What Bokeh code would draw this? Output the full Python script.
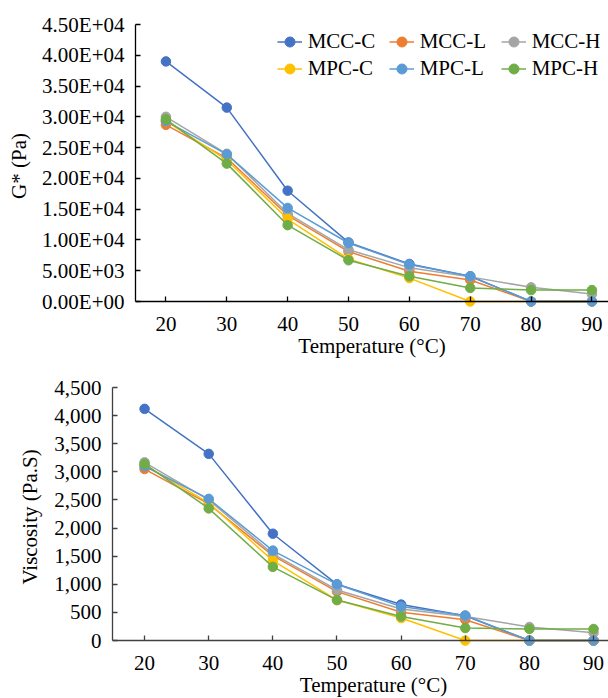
from bokeh.plotting import figure
from bokeh.models import Range1d, FixedTicker, Legend, LegendItem, LinearAxis, Title
from bokeh.embed import file_html
from bokeh.resources import INLINE

# ---------------- data ----------------
temps = [20, 30, 40, 50, 60, 70, 80, 90]
series_names = ["MCC-C", "MCC-L", "MCC-H", "MPC-C", "MPC-L", "MPC-H"]
series_colors = ["#4472C4", "#ED7D31", "#A5A5A5", "#FFC000", "#5B9BD5", "#70AD47"]

# complex modulus G* (Pa)
g_mcc_c = [39000, 31500, 18000, 9600, 6100, 4100, 0, 0]
g_mcc_l = [28700, 23300, 14000, 8100, 4900, 3500, 0, 0]
g_mcc_h = [30000, 24000, 14300, 8400, 5500, 4000, 2300, 1200]
g_mpc_c = [29300, 23000, 13400, 6900, 3800, 0, 0, 0]
g_mpc_l = [29300, 23900, 15200, 9500, 6000, 4100, 0, 0]
g_mpc_h = [29600, 22400, 12400, 6700, 4100, 2200, 1850, 1850]

# viscosity (Pa.S)
v_mcc_c = [4120, 3320, 1900, 1000, 640, 440, 0, 0]
v_mcc_l = [3050, 2430, 1510, 870, 505, 370, 0, 0]
v_mcc_h = [3170, 2500, 1540, 900, 563, 430, 241, 140]
v_mpc_c = [3120, 2450, 1420, 720, 400, 0, 0, 0]
v_mpc_l = [3100, 2520, 1600, 1000, 604, 446, 0, 0]
v_mpc_h = [3140, 2350, 1310, 720, 428, 223, 206, 206]

g_ticks = [0, 5000, 10000, 15000, 20000, 25000, 30000, 35000, 40000, 45000]
g_tick_labels = ["0.00E+00", "5.00E+03", "1.00E+04", "1.50E+04", "2.00E+04",
                 "2.50E+04", "3.00E+04", "3.50E+04", "4.00E+04", "4.50E+04"]
v_ticks = [0, 500, 1000, 1500, 2000, 2500, 3000, 3500, 4000, 4500]
v_tick_labels = ["0", "500", "1,000", "1,500", "2,000", "2,500", "3,000", "3,500", "4,000", "4,500"]

x_label = "Temperature (°C)"
g_label = "G* (Pa)"
v_label = "Viscosity (Pa.S)"

FONT = "Liberation Serif"
FS = "21px"
X_MIN = 15
PAD = 6  # px of frame below the x axis so markers at 0 are not clipped


def style_axis(ax, color):
    ax.axis_line_color = color
    ax.axis_line_width = 1.3
    ax.major_tick_line_color = color
    ax.major_tick_line_width = 1.3
    ax.minor_tick_line_color = color
    ax.minor_tick_line_width = 1.3
    ax.minor_tick_in = 0
    ax.minor_tick_out = 0
    ax.major_label_text_font = FONT
    ax.major_label_text_font_size = FS
    ax.major_label_text_color = "black"
    ax.axis_label_text_font = FONT
    ax.axis_label_text_font_size = FS
    ax.axis_label_text_font_style = "normal"
    ax.axis_label_text_color = "black"


def make_fig(width, height, left, top, axis_px, px_per_unit, y_max,
             ticks, tick_labels, axis_color, ylab, ylab_standoff, xlab_offset):
    frame_w = width - left
    x_end = X_MIN + frame_w / px_per_unit
    y_per_px = y_max / axis_px
    y_start = -PAD * y_per_px
    bottom = height - top - axis_px - PAD
    p = figure(width=width, height=height, output_backend="svg", toolbar_location=None,
               x_range=Range1d(X_MIN, x_end), y_range=Range1d(y_start, y_max),
               min_border_left=left, min_border_right=0, min_border_top=top,
               min_border_bottom=bottom)
    p.outline_line_color = None
    p.grid.visible = False
    p.background_fill_color = "white"
    p.border_fill_color = "white"

    # bottom axis: tick labels only
    xa = p.xaxis[0]
    xa.ticker = FixedTicker(ticks=temps)
    style_axis(xa, axis_color)
    xa.axis_line_color = None
    xa.major_tick_line_color = None
    xa.major_tick_in = 0
    xa.major_tick_out = 0
    xa.major_label_standoff = 9
    if xlab_offset is None:
        xa.axis_label = x_label
        xa.axis_label_standoff = 0
    else:
        p.add_layout(Title(text=x_label, align="left", offset=xlab_offset,
                           vertical_align="top", standoff=0,
                           text_font=FONT, text_font_size=FS, text_font_style="normal",
                           text_color="black"), "below")

    # axis line + tick marks drawn exactly at y = 0 (no labels)
    x0 = LinearAxis(fixed_location=0, ticker=FixedTicker(ticks=[], minor_ticks=temps))
    style_axis(x0, axis_color)
    x0.major_tick_in = 0
    x0.major_tick_out = 0
    x0.minor_tick_in = 0
    x0.minor_tick_out = 5
    p.add_layout(x0, "above")

    ya = p.yaxis[0]
    ya.ticker = FixedTicker(ticks=ticks)
    ya.major_label_overrides = {t: s for t, s in zip(ticks, tick_labels)}
    ya.bounds = (0, y_max)
    style_axis(ya, axis_color)
    ya.major_tick_in = 5
    ya.major_tick_out = 0
    ya.major_label_standoff = 11
    ya.axis_label = ylab
    ya.axis_label_standoff = ylab_standoff
    return p


H1 = 360
p1 = make_fig(608, H1, 135, 24, 277, 6.086, 45000, g_ticks, g_tick_labels, "black",
              g_label, 8, None)
p2 = make_fig(608, 698 - H1, 112, 27, 256, 6.414, 4500, v_ticks, v_tick_labels, "#404040",
              v_label, 9, 187.3)

g_series = [g_mcc_c, g_mcc_l, g_mcc_h, g_mpc_c, g_mpc_l, g_mpc_h]
v_series = [v_mcc_c, v_mcc_l, v_mcc_h, v_mpc_c, v_mpc_l, v_mpc_h]

items = []
for name, col, gs, vs in zip(series_names, series_colors, g_series, v_series):
    lr = p1.line(temps, gs, line_color=col, line_width=1.5)
    sr = p1.scatter(temps, gs, marker="circle", size=9.5, fill_color=col, line_color=col)
    items.append(LegendItem(label=name, renderers=[lr, sr]))
    p2.line(temps, vs, line_color=col, line_width=1.5)
    p2.scatter(temps, vs, marker="circle", size=9.5, fill_color=col, line_color=col)

legend = Legend(items=items, location=(141.7, 301 + PAD - 82.2), orientation="horizontal",
                ncols=3, padding=0, spacing=0, margin=0, glyph_width=25, glyph_height=27,
                label_height=27, label_width=81, label_standoff=6,
                label_text_font=FONT, label_text_font_size=FS, label_text_color="black",
                background_fill_alpha=0, border_line_alpha=0)
p1.add_layout(legend)

open("out.html", "w").write(file_html([p1, p2], INLINE))
